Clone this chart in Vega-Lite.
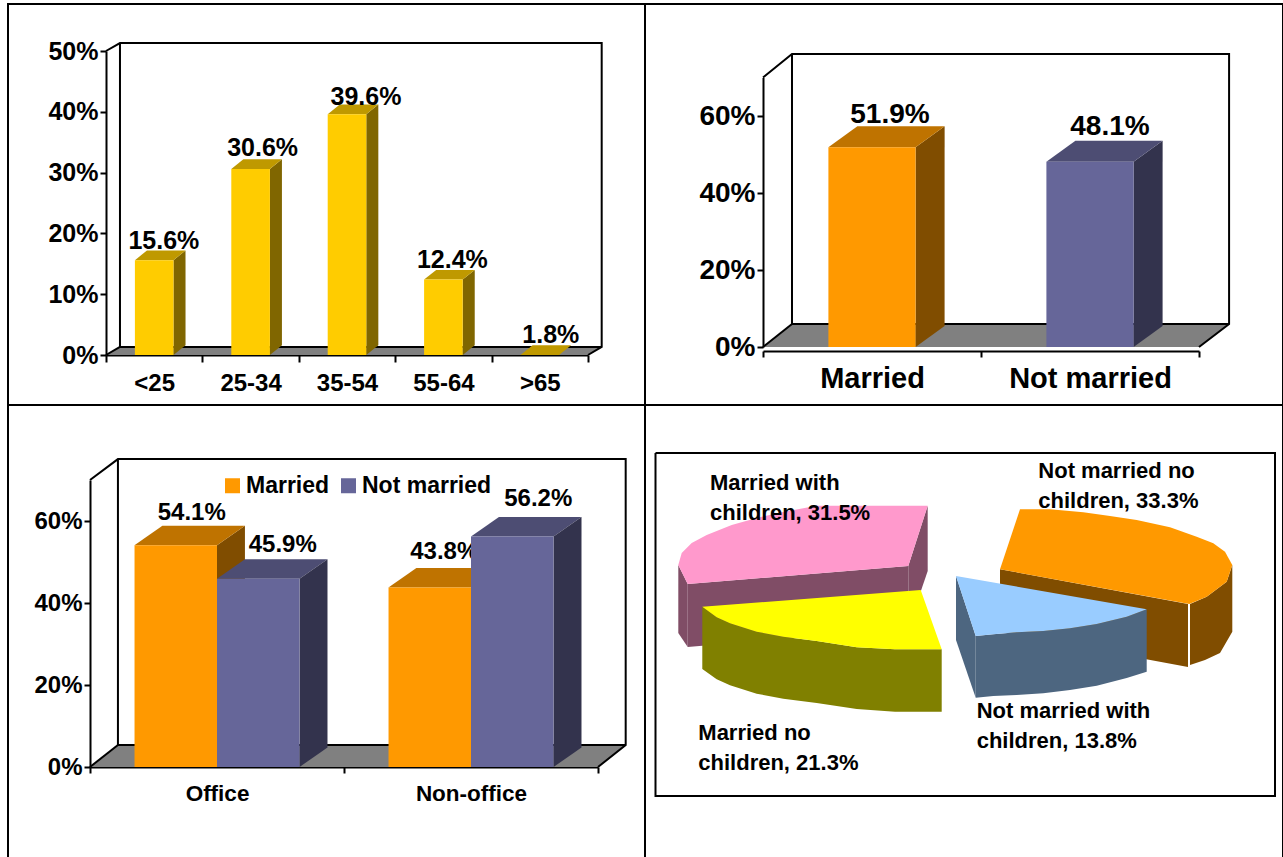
{
"$schema":"https://vega.github.io/schema/vega-lite/v6.json",
"padding":{"left":7,"top":3,"right":0,"bottom":0},
"background":"white",
"columns":2,"spacing":0,"bounds":"flush","align":"each",
"resolve":{"scale":{"color":"independent","fill":"independent"}},
"config":{
 "view":{"stroke":"black","strokeWidth":2,"fill":"white"},
 "axis":{"grid":false,"title":null,"labelFont":"Liberation Sans","labelFontWeight":"bold","labelColor":"black","domainColor":"black","tickColor":"black","domainWidth":2,"tickWidth":2,"tickSize":6,"labelPadding":2,"labelOverlap":false,"labelFlush":false,"labelAngle":0,"zindex":1},
 "text":{"font":"Liberation Sans","fontWeight":"bold","color":"black","baseline":"middle"},
 "legend":{"labelFont":"Liberation Sans","labelFontWeight":"bold","labelColor":"black"}
},
"datasets":{
 "age":[{"age":"<25","value":15.6,"label":"15.6%"},{"age":"25-34","value":30.6,"label":"30.6%"},{"age":"35-54","value":39.6,"label":"39.6%"},{"age":"55-64","value":12.4,"label":"12.4%"},{"age":">65","value":1.8,"label":"1.8%"}],
 "marital":[{"status":"Married","value":51.9,"label":"51.9%"},{"status":"Not married","value":48.1,"label":"48.1%"}],
 "work":[{"job":"Office","status":"Married","value":54.1,"label":"54.1%"},{"job":"Office","status":"Not married","value":45.9,"label":"45.9%"},{"job":"Non-office","status":"Married","value":43.8,"label":"43.8%"},{"job":"Non-office","status":"Not married","value":56.2,"label":"56.2%"}],
 "family":[{"segment":"Married with children","value":31.5,"label":"Married with\nchildren, 31.5%","x":710,"y":482.7},{"segment":"Not married no children","value":33.3,"label":"Not married no\nchildren, 33.3%","x":1038.3,"y":470.7},{"segment":"Not married with children","value":13.8,"label":"Not married with\nchildren, 13.8%","x":976.7,"y":710.7},{"segment":"Married no children","value":21.3,"label":"Married no\nchildren, 21.3%","x":698.3,"y":732.7}],
 "p1faces":[
 {"p":"floor","s":"floor","k":0,"x":0,"y":0},{"p":"floor","s":"floor","k":1,"x":0.145,"y":1.32},{"p":"floor","s":"floor","k":2,"x":5.142,"y":1.32},{"p":"floor","s":"floor","k":3,"x":5,"y":0},
 {"p":"a1","s":"side","k":0,"x":0.7,"y":15.6},{"p":"a1","s":"side","k":1,"x":0.825,"y":17.2},{"p":"a1","s":"side","k":2,"x":0.825,"y":1.6},{"p":"a1","s":"side","k":3,"x":0.7,"y":0},
 {"p":"a2","s":"top","k":0,"x":0.3,"y":15.6},{"p":"a2","s":"top","k":1,"x":0.7,"y":15.6},{"p":"a2","s":"top","k":2,"x":0.825,"y":17.2},{"p":"a2","s":"top","k":3,"x":0.425,"y":17.2},
 {"p":"b1","s":"side","k":0,"x":1.7,"y":30.6},{"p":"b1","s":"side","k":1,"x":1.825,"y":32.2},{"p":"b1","s":"side","k":2,"x":1.825,"y":1.6},{"p":"b1","s":"side","k":3,"x":1.7,"y":0},
 {"p":"b2","s":"top","k":0,"x":1.3,"y":30.6},{"p":"b2","s":"top","k":1,"x":1.7,"y":30.6},{"p":"b2","s":"top","k":2,"x":1.825,"y":32.2},{"p":"b2","s":"top","k":3,"x":1.425,"y":32.2},
 {"p":"c1","s":"side","k":0,"x":2.7,"y":39.6},{"p":"c1","s":"side","k":1,"x":2.825,"y":41.2},{"p":"c1","s":"side","k":2,"x":2.825,"y":1.6},{"p":"c1","s":"side","k":3,"x":2.7,"y":0},
 {"p":"c2","s":"top","k":0,"x":2.3,"y":39.6},{"p":"c2","s":"top","k":1,"x":2.7,"y":39.6},{"p":"c2","s":"top","k":2,"x":2.825,"y":41.2},{"p":"c2","s":"top","k":3,"x":2.425,"y":41.2},
 {"p":"d1","s":"side","k":0,"x":3.7,"y":12.4},{"p":"d1","s":"side","k":1,"x":3.825,"y":14},{"p":"d1","s":"side","k":2,"x":3.825,"y":1.6},{"p":"d1","s":"side","k":3,"x":3.7,"y":0},
 {"p":"d2","s":"top","k":0,"x":3.3,"y":12.4},{"p":"d2","s":"top","k":1,"x":3.7,"y":12.4},{"p":"d2","s":"top","k":2,"x":3.825,"y":14},{"p":"d2","s":"top","k":3,"x":3.425,"y":14},
 {"p":"e2","s":"top","k":0,"x":4.3,"y":0},{"p":"e2","s":"top","k":1,"x":4.7,"y":0},{"p":"e2","s":"top","k":2,"x":4.825,"y":1.6},{"p":"e2","s":"top","k":3,"x":4.425,"y":1.6}
 ],
 "p1edges":[
 {"p":"w1","k":0,"x":0,"y":50},{"p":"w1","k":1,"x":0.145,"y":51.3},{"p":"w1","k":2,"x":5.142,"y":51.3},{"p":"w1","k":3,"x":5.142,"y":1.32},{"p":"w1","k":4,"x":5,"y":0},
 {"p":"w2","k":0,"x":0.145,"y":51.3},{"p":"w2","k":1,"x":0.145,"y":1.32},{"p":"w2","k":2,"x":5.142,"y":1.32},
 {"p":"w3","k":0,"x":0,"y":0},{"p":"w3","k":1,"x":0.145,"y":1.32}
 ],
 "p2faces":[
 {"p":"floor","s":"floor","k":0,"x":0,"y":0},{"p":"floor","s":"floor","k":1,"x":0.133,"y":5.97},{"p":"floor","s":"floor","k":2,"x":2.138,"y":5.97},{"p":"floor","s":"floor","k":3,"x":2,"y":0},
 {"p":"a1","s":"oside","k":0,"x":0.7,"y":51.9},{"p":"a1","s":"oside","k":1,"x":0.833,"y":57.35},{"p":"a1","s":"oside","k":2,"x":0.833,"y":5.45},{"p":"a1","s":"oside","k":3,"x":0.7,"y":0},
 {"p":"a2","s":"otop","k":0,"x":0.3,"y":51.9},{"p":"a2","s":"otop","k":1,"x":0.7,"y":51.9},{"p":"a2","s":"otop","k":2,"x":0.833,"y":57.35},{"p":"a2","s":"otop","k":3,"x":0.433,"y":57.35},
 {"p":"b1","s":"pside","k":0,"x":1.7,"y":48.1},{"p":"b1","s":"pside","k":1,"x":1.833,"y":53.55},{"p":"b1","s":"pside","k":2,"x":1.833,"y":5.45},{"p":"b1","s":"pside","k":3,"x":1.7,"y":0},
 {"p":"b2","s":"ptop","k":0,"x":1.3,"y":48.1},{"p":"b2","s":"ptop","k":1,"x":1.7,"y":48.1},{"p":"b2","s":"ptop","k":2,"x":1.833,"y":53.55},{"p":"b2","s":"ptop","k":3,"x":1.433,"y":53.55}
 ],
 "p2edges":[
 {"p":"w1","k":0,"x":0,"y":70},{"p":"w1","k":1,"x":0.133,"y":76.1},{"p":"w1","k":2,"x":2.138,"y":76.1},{"p":"w1","k":3,"x":2.138,"y":5.97},{"p":"w1","k":4,"x":2,"y":0},
 {"p":"w2","k":0,"x":0.133,"y":76.1},{"p":"w2","k":1,"x":0.133,"y":5.97},{"p":"w2","k":2,"x":2.138,"y":5.97},
 {"p":"w3","k":0,"x":0,"y":0},{"p":"w3","k":1,"x":0.133,"y":5.97}
 ],
 "p3faces":[
 {"p":"floor","s":"floor","k":0,"x":0,"y":0},{"p":"floor","s":"floor","k":1,"x":0.11,"y":5.37},{"p":"floor","s":"floor","k":2,"x":2.109,"y":5.37},{"p":"floor","s":"floor","k":3,"x":2,"y":0},
 {"p":"a1","s":"oside","k":0,"x":0.5,"y":54.1},{"p":"a1","s":"oside","k":1,"x":0.61,"y":58.86},{"p":"a1","s":"oside","k":2,"x":0.61,"y":4.76},{"p":"a1","s":"oside","k":3,"x":0.5,"y":0},
 {"p":"a2","s":"otop","k":0,"x":0.175,"y":54.1},{"p":"a2","s":"otop","k":1,"x":0.5,"y":54.1},{"p":"a2","s":"otop","k":2,"x":0.61,"y":58.86},{"p":"a2","s":"otop","k":3,"x":0.285,"y":58.86},
 {"p":"b2","s":"ptop","k":0,"x":0.5,"y":45.9},{"p":"b2","s":"ptop","k":1,"x":0.825,"y":45.9},{"p":"b2","s":"ptop","k":2,"x":0.935,"y":50.66},{"p":"b2","s":"ptop","k":3,"x":0.61,"y":50.66},
 {"p":"b1","s":"pside","k":0,"x":0.825,"y":45.9},{"p":"b1","s":"pside","k":1,"x":0.935,"y":50.66},{"p":"b1","s":"pside","k":2,"x":0.935,"y":4.76},{"p":"b1","s":"pside","k":3,"x":0.825,"y":0},
 {"p":"c2","s":"otop","k":0,"x":1.175,"y":43.8},{"p":"c2","s":"otop","k":1,"x":1.5,"y":43.8},{"p":"c2","s":"otop","k":2,"x":1.61,"y":48.56},{"p":"c2","s":"otop","k":3,"x":1.285,"y":48.56},
 {"p":"d2","s":"ptop","k":0,"x":1.5,"y":56.2},{"p":"d2","s":"ptop","k":1,"x":1.825,"y":56.2},{"p":"d2","s":"ptop","k":2,"x":1.935,"y":60.96},{"p":"d2","s":"ptop","k":3,"x":1.61,"y":60.96},
 {"p":"d1","s":"pside","k":0,"x":1.825,"y":56.2},{"p":"d1","s":"pside","k":1,"x":1.935,"y":60.96},{"p":"d1","s":"pside","k":2,"x":1.935,"y":4.76},{"p":"d1","s":"pside","k":3,"x":1.825,"y":0}
 ],
 "p3edges":[
 {"p":"w1","k":0,"x":0,"y":70},{"p":"w1","k":1,"x":0.11,"y":75.1},{"p":"w1","k":2,"x":2.109,"y":75.1},{"p":"w1","k":3,"x":2.109,"y":5.37},{"p":"w1","k":4,"x":2,"y":0},
 {"p":"w2","k":0,"x":0.11,"y":75.1},{"p":"w2","k":1,"x":0.11,"y":5.37},{"p":"w2","k":2,"x":2.109,"y":5.37},
 {"p":"w3","k":0,"x":0,"y":0},{"p":"w3","k":1,"x":0.11,"y":5.37}
 ],
 "pieOutlines":[
 {"p":"box","s":"box","k":0,"x":655.5,"y":453},{"p":"box","s":"box","k":1,"x":1275,"y":453},{"p":"box","s":"box","k":2,"x":1275,"y":796},{"p":"box","s":"box","k":3,"x":655.5,"y":796},{"p":"box","s":"box","k":4,"x":655.5,"y":453},
 {"p":"pk1","s":"pinkside","k":0,"x":678.3,"y":565},{"p":"pk1","s":"pinkside","k":1,"x":687.7,"y":584},{"p":"pk1","s":"pinkside","k":2,"x":687.7,"y":647},{"p":"pk1","s":"pinkside","k":3,"x":678.3,"y":633},
 {"p":"pk2","s":"pinkside","k":0,"x":687.7,"y":584},{"p":"pk2","s":"pinkside","k":1,"x":908.3,"y":566},{"p":"pk2","s":"pinkside","k":2,"x":908.3,"y":628},{"p":"pk2","s":"pinkside","k":3,"x":687.7,"y":647},
 {"p":"pk3","s":"pinkside","k":0,"x":927.7,"y":505.7},{"p":"pk3","s":"pinkside","k":1,"x":908.3,"y":566},{"p":"pk3","s":"pinkside","k":2,"x":908.3,"y":628},{"p":"pk3","s":"pinkside","k":3,"x":927.7,"y":571},
 {"p":"pk4","s":"pink","k":0,"x":927.7,"y":505.7},{"p":"pk4","s":"pink","k":1,"x":908.3,"y":566},{"p":"pk4","s":"pink","k":2,"x":687.7,"y":584},{"p":"pk4","s":"pink","k":3,"x":678.3,"y":565},{"p":"pk4","s":"pink","k":4,"x":681.7,"y":553},{"p":"pk4","s":"pink","k":5,"x":691.7,"y":543},{"p":"pk4","s":"pink","k":6,"x":706.7,"y":535},{"p":"pk4","s":"pink","k":7,"x":731.7,"y":525},{"p":"pk4","s":"pink","k":8,"x":756.7,"y":518},{"p":"pk4","s":"pink","k":9,"x":783,"y":512},{"p":"pk4","s":"pink","k":10,"x":810,"y":507},{"p":"pk4","s":"pink","k":11,"x":816.7,"y":505.7},
 {"p":"yl1","s":"yellowside","k":0,"x":702.3,"y":606.7},{"p":"yl1","s":"yellowside","k":1,"x":716.7,"y":617.3},{"p":"yl1","s":"yellowside","k":2,"x":730,"y":623.3},{"p":"yl1","s":"yellowside","k":3,"x":756.7,"y":631.7},{"p":"yl1","s":"yellowside","k":4,"x":783.3,"y":636.7},{"p":"yl1","s":"yellowside","k":5,"x":816.7,"y":641},{"p":"yl1","s":"yellowside","k":6,"x":856.7,"y":647.3},{"p":"yl1","s":"yellowside","k":7,"x":895,"y":649.3},{"p":"yl1","s":"yellowside","k":8,"x":941.7,"y":649.3},{"p":"yl1","s":"yellowside","k":9,"x":941.7,"y":711.7},{"p":"yl1","s":"yellowside","k":10,"x":895,"y":711.7},{"p":"yl1","s":"yellowside","k":11,"x":856.7,"y":709},{"p":"yl1","s":"yellowside","k":12,"x":816.7,"y":703},{"p":"yl1","s":"yellowside","k":13,"x":783.3,"y":698.7},{"p":"yl1","s":"yellowside","k":14,"x":756.7,"y":693.7},{"p":"yl1","s":"yellowside","k":15,"x":730,"y":685.3},{"p":"yl1","s":"yellowside","k":16,"x":716.7,"y":679.3},{"p":"yl1","s":"yellowside","k":17,"x":702.3,"y":669},
 {"p":"yl2","s":"yellow","k":0,"x":702.3,"y":606.7},{"p":"yl2","s":"yellow","k":1,"x":920.7,"y":590},{"p":"yl2","s":"yellow","k":2,"x":941.7,"y":649.3},{"p":"yl2","s":"yellow","k":3,"x":895,"y":649.3},{"p":"yl2","s":"yellow","k":4,"x":856.7,"y":647.3},{"p":"yl2","s":"yellow","k":5,"x":816.7,"y":641},{"p":"yl2","s":"yellow","k":6,"x":783.3,"y":636.7},{"p":"yl2","s":"yellow","k":7,"x":756.7,"y":631.7},{"p":"yl2","s":"yellow","k":8,"x":730,"y":623.3},{"p":"yl2","s":"yellow","k":9,"x":716.7,"y":617.3},
 {"p":"or1","s":"orangeside","k":0,"x":1000,"y":569.3},{"p":"or1","s":"orangeside","k":1,"x":1188,"y":604},{"p":"or1","s":"orangeside","k":2,"x":1188,"y":667},{"p":"or1","s":"orangeside","k":3,"x":1000,"y":632},
 {"p":"or2","s":"orangeside","k":0,"x":1190,"y":604},{"p":"or2","s":"orangeside","k":1,"x":1206.7,"y":596.7},{"p":"or2","s":"orangeside","k":2,"x":1226.7,"y":581.7},{"p":"or2","s":"orangeside","k":3,"x":1232.3,"y":565},{"p":"or2","s":"orangeside","k":4,"x":1232.3,"y":631.7},{"p":"or2","s":"orangeside","k":5,"x":1220,"y":653},{"p":"or2","s":"orangeside","k":6,"x":1205,"y":660},{"p":"or2","s":"orangeside","k":7,"x":1190,"y":665},
 {"p":"or3","s":"orange","k":0,"x":1020,"y":509.3},{"p":"or3","s":"orange","k":1,"x":1000,"y":569.3},{"p":"or3","s":"orange","k":2,"x":1189.3,"y":604},{"p":"or3","s":"orange","k":3,"x":1206.7,"y":596.7},{"p":"or3","s":"orange","k":4,"x":1226.7,"y":581.7},{"p":"or3","s":"orange","k":5,"x":1232.3,"y":565},{"p":"or3","s":"orange","k":6,"x":1225,"y":551.7},{"p":"or3","s":"orange","k":7,"x":1213.3,"y":543.3},{"p":"or3","s":"orange","k":8,"x":1196.7,"y":536.7},{"p":"or3","s":"orange","k":9,"x":1170,"y":527.3},{"p":"or3","s":"orange","k":10,"x":1136.7,"y":520},{"p":"or3","s":"orange","k":11,"x":1110,"y":516},{"p":"or3","s":"orange","k":12,"x":1083.3,"y":512.3},{"p":"or3","s":"orange","k":13,"x":1050,"y":509.3},
 {"p":"bl1","s":"blueside","k":0,"x":956,"y":576},{"p":"bl1","s":"blueside","k":1,"x":975.7,"y":636},{"p":"bl1","s":"blueside","k":2,"x":975.7,"y":697.7},{"p":"bl1","s":"blueside","k":3,"x":956,"y":640},
 {"p":"bl2","s":"blueside","k":0,"x":975.7,"y":636},{"p":"bl2","s":"blueside","k":1,"x":993.3,"y":634.3},{"p":"bl2","s":"blueside","k":2,"x":1016.7,"y":632.3},{"p":"bl2","s":"blueside","k":3,"x":1043.3,"y":631},{"p":"bl2","s":"blueside","k":4,"x":1070,"y":628.3},{"p":"bl2","s":"blueside","k":5,"x":1096.7,"y":624},{"p":"bl2","s":"blueside","k":6,"x":1126.7,"y":616.7},{"p":"bl2","s":"blueside","k":7,"x":1146.7,"y":609.3},{"p":"bl2","s":"blueside","k":8,"x":1146.7,"y":671.7},{"p":"bl2","s":"blueside","k":9,"x":1126.7,"y":678},{"p":"bl2","s":"blueside","k":10,"x":1096.7,"y":685.7},{"p":"bl2","s":"blueside","k":11,"x":1070,"y":690},{"p":"bl2","s":"blueside","k":12,"x":1043.3,"y":693.3},{"p":"bl2","s":"blueside","k":13,"x":1016.7,"y":695},{"p":"bl2","s":"blueside","k":14,"x":993.3,"y":696},{"p":"bl2","s":"blueside","k":15,"x":975.7,"y":697.7},
 {"p":"bl3","s":"blue","k":0,"x":956,"y":576},{"p":"bl3","s":"blue","k":1,"x":1146.7,"y":609.3},{"p":"bl3","s":"blue","k":2,"x":1126.7,"y":616.7},{"p":"bl3","s":"blue","k":3,"x":1096.7,"y":624},{"p":"bl3","s":"blue","k":4,"x":1070,"y":628.3},{"p":"bl3","s":"blue","k":5,"x":1043.3,"y":631},{"p":"bl3","s":"blue","k":6,"x":1016.7,"y":632.3},{"p":"bl3","s":"blue","k":7,"x":993.3,"y":634.3},{"p":"bl3","s":"blue","k":8,"x":975.7,"y":636}
 ]
},
"concat":[
 {"width":637,"height":401,
  "resolve":{"scale":{"x":"independent"},"axis":{"y":"independent"}},
  "layer":[
  {"data":{"name":"p1faces"},"transform":[{"filter":"datum.p==='floor'"}],"mark":{"type":"line","fill":"#808080","strokeWidth":0},"encoding":{"x":{"field":"x","type":"quantitative","axis":null,"scale":{"domain":[0,5],"range":[98,580]}},"y":{"field":"y","type":"quantitative","axis":null,"scale":{"domain":[0,50],"range":[351,47]}},"detail":{"field":"p"},"order":{"field":"k"}}},
  {"data":{"name":"p1edges"},"mark":{"type":"line","color":"black","strokeWidth":2},"encoding":{"x":{"field":"x","type":"quantitative","axis":null,"scale":{"domain":[0,5],"range":[98,580]}},"y":{"field":"y","type":"quantitative","axis":null,"scale":{"domain":[0,50],"range":[351,47]}},"detail":{"field":"p"},"order":{"field":"k"}}},
  {"data":{"name":"p1faces"},"transform":[{"filter":"datum.p!=='floor'"}],"mark":{"type":"line","strokeWidth":0},"encoding":{"x":{"field":"x","type":"quantitative","axis":null,"scale":{"domain":[0,5],"range":[98,580]}},"y":{"field":"y","type":"quantitative","axis":null,"scale":{"domain":[0,50],"range":[351,47]}},"fill":{"field":"s","type":"nominal","legend":null,"scale":{"domain":["top","side"],"range":["#BF9900","#806600"]}},"detail":{"field":"p"},"order":{"field":"k"}}},
  {"data":{"name":"age"},"transform":[{"filter":"datum.value>2"}],"mark":{"type":"bar","color":"#FFCC00","width":38.6},"encoding":{"x":{"field":"age","type":"nominal","sort":null,"title":null,"axis":{"orient":"bottom","offset":-50,"tickBand":"extent","labelFontSize":24,"labelPadding":9,"tickSize":7},"scale":{"type":"band","domain":["<25","25-34","35-54","55-64",">65"],"range":[98,580],"padding":0}},"y":{"field":"value","type":"quantitative","title":null,"axis":{"orient":"left","offset":-98,"values":[0,10,20,30,40,50],"labelExpr":"datum.value+'%'","labelFontSize":25},"scale":{"domain":[0,50],"range":[351,47]}}}},
  {"data":{"name":"age"},"transform":[{"filter":"datum.age==='<25'"}],"mark":{"type":"text","fontSize":25,"dx":9.7,"dy":-19},"encoding":{"x":{"field":"age","type":"nominal","axis":null,"scale":{"type":"band","domain":["<25","25-34","35-54","55-64",">65"],"range":[98,580],"padding":0}},"y":{"field":"value","type":"quantitative","axis":null,"scale":{"domain":[0,50],"range":[351,47]}},"text":{"field":"label"}}},
  {"data":{"name":"age"},"transform":[{"filter":"datum.age==='25-34'"}],"mark":{"type":"text","fontSize":25,"dx":12,"dy":-21},"encoding":{"x":{"field":"age","type":"nominal","axis":null,"scale":{"type":"band","domain":["<25","25-34","35-54","55-64",">65"],"range":[98,580],"padding":0}},"y":{"field":"value","type":"quantitative","axis":null,"scale":{"domain":[0,50],"range":[351,47]}},"text":{"field":"label"}}},
  {"data":{"name":"age"},"transform":[{"filter":"datum.age==='35-54'"}],"mark":{"type":"text","fontSize":25,"dx":19,"dy":-17.5},"encoding":{"x":{"field":"age","type":"nominal","axis":null,"scale":{"type":"band","domain":["<25","25-34","35-54","55-64",">65"],"range":[98,580],"padding":0}},"y":{"field":"value","type":"quantitative","axis":null,"scale":{"domain":[0,50],"range":[351,47]}},"text":{"field":"label"}}},
  {"data":{"name":"age"},"transform":[{"filter":"datum.age==='55-64'"}],"mark":{"type":"text","fontSize":25,"dx":9,"dy":-19.6},"encoding":{"x":{"field":"age","type":"nominal","axis":null,"scale":{"type":"band","domain":["<25","25-34","35-54","55-64",">65"],"range":[98,580],"padding":0}},"y":{"field":"value","type":"quantitative","axis":null,"scale":{"domain":[0,50],"range":[351,47]}},"text":{"field":"label"}}},
  {"data":{"name":"age"},"transform":[{"filter":"datum.age==='>65'"}],"mark":{"type":"text","fontSize":25,"dx":11,"dy":-9},"encoding":{"x":{"field":"age","type":"nominal","axis":null,"scale":{"type":"band","domain":["<25","25-34","35-54","55-64",">65"],"range":[98,580],"padding":0}},"y":{"field":"value","type":"quantitative","axis":null,"scale":{"domain":[0,50],"range":[351,47]}},"text":{"field":"label"}}}
  ]},
 {"width":638,"height":401,
  "resolve":{"scale":{"x":"independent"},"axis":{"y":"independent"}},
  "layer":[
  {"data":{"name":"p2faces"},"transform":[{"filter":"datum.p==='floor'"}],"mark":{"type":"line","fill":"#808080","strokeWidth":0},"encoding":{"x":{"field":"x","type":"quantitative","axis":null,"scale":{"domain":[0,2],"range":[118,554]}},"y":{"field":"y","type":"quantitative","axis":null,"scale":{"domain":[0,70],"range":[343,73.5]}},"detail":{"field":"p"},"order":{"field":"k"}}},
  {"data":{"name":"p2edges"},"mark":{"type":"line","color":"black","strokeWidth":2},"encoding":{"x":{"field":"x","type":"quantitative","axis":null,"scale":{"domain":[0,2],"range":[118,554]}},"y":{"field":"y","type":"quantitative","axis":null,"scale":{"domain":[0,70],"range":[343,73.5]}},"detail":{"field":"p"},"order":{"field":"k"}}},
  {"data":{"name":"marital"},"transform":[{"filter":"datum.status==='Married'"}],"mark":{"type":"text","fontSize":28,"dx":18,"dy":-32},"encoding":{"x":{"field":"status","type":"nominal","axis":null,"scale":{"type":"band","domain":["Married","Not married"],"range":[118,554],"padding":0}},"y":{"field":"value","type":"quantitative","axis":null,"scale":{"domain":[0,70],"range":[343,73.5]}},"text":{"field":"label"}}},
  {"data":{"name":"marital"},"transform":[{"filter":"datum.status==='Not married'"}],"mark":{"type":"text","fontSize":28,"dx":20,"dy":-35},"encoding":{"x":{"field":"status","type":"nominal","axis":null,"scale":{"type":"band","domain":["Married","Not married"],"range":[118,554],"padding":0}},"y":{"field":"value","type":"quantitative","axis":null,"scale":{"domain":[0,70],"range":[343,73.5]}},"text":{"field":"label"}}},
  {"data":{"name":"p2faces"},"transform":[{"filter":"datum.p!=='floor'"}],"mark":{"type":"line","strokeWidth":0},"encoding":{"x":{"field":"x","type":"quantitative","axis":null,"scale":{"domain":[0,2],"range":[118,554]}},"y":{"field":"y","type":"quantitative","axis":null,"scale":{"domain":[0,70],"range":[343,73.5]}},"fill":{"field":"s","type":"nominal","legend":null,"scale":{"domain":["otop","oside","ptop","pside"],"range":["#BF7300","#804D00","#4D4D73","#33334D"]}},"detail":{"field":"p"},"order":{"field":"k"}}},
  {"data":{"name":"marital"},"mark":{"type":"bar","width":87.2},"encoding":{"x":{"field":"status","type":"nominal","sort":null,"title":null,"axis":{"orient":"bottom","offset":-54,"tickBand":"extent","labelFontSize":29,"labelPadding":7,"tickSize":6},"scale":{"type":"band","domain":["Married","Not married"],"range":[118,554],"padding":0}},"y":{"field":"value","type":"quantitative","title":null,"axis":{"orient":"left","offset":-118,"values":[0,20,40,60],"labelExpr":"datum.value+'%'","labelFontSize":28},"scale":{"domain":[0,70],"range":[343,73.5]}},"color":{"field":"status","type":"nominal","legend":null,"scale":{"domain":["Married","Not married"],"range":["#FF9900","#666699"]}}}}
  ]},
 {"width":637,"height":456,
  "resolve":{"scale":{"x":"independent"},"axis":{"y":"independent"}},
  "layer":[
  {"data":{"name":"p3faces"},"transform":[{"filter":"datum.p==='floor'"}],"mark":{"type":"line","fill":"#808080","strokeWidth":0},"encoding":{"x":{"field":"x","type":"quantitative","axis":null,"scale":{"domain":[0,2],"range":[82,590]}},"y":{"field":"y","type":"quantitative","axis":null,"scale":{"domain":[0,70],"range":[362,75]}},"detail":{"field":"p"},"order":{"field":"k"}}},
  {"data":{"name":"p3edges"},"mark":{"type":"line","color":"black","strokeWidth":2},"encoding":{"x":{"field":"x","type":"quantitative","axis":null,"scale":{"domain":[0,2],"range":[82,590]}},"y":{"field":"y","type":"quantitative","axis":null,"scale":{"domain":[0,70],"range":[362,75]}},"detail":{"field":"p"},"order":{"field":"k"}}},
  {"data":{"name":"work"},"transform":[{"filter":"datum.job==='Office'&&datum.status==='Married'"}],"mark":{"type":"text","fontSize":24,"dx":16,"dy":-32.5},"encoding":{"x":{"field":"job","type":"nominal","axis":null,"scale":{"type":"band","domain":["Office","Non-office"],"range":[82,590],"padding":0}},"xOffset":{"field":"status","type":"nominal","scale":{"domain":["Married","Not married"],"paddingInner":0,"paddingOuter":0.54}},"y":{"field":"value","type":"quantitative","axis":null,"scale":{"domain":[0,70],"range":[362,75]}},"text":{"field":"label"}}},
  {"data":{"name":"work"},"transform":[{"filter":"datum.job==='Office'&&datum.status==='Not married'"}],"mark":{"type":"text","fontSize":24,"dx":24.5,"dy":-34},"encoding":{"x":{"field":"job","type":"nominal","axis":null,"scale":{"type":"band","domain":["Office","Non-office"],"range":[82,590],"padding":0}},"xOffset":{"field":"status","type":"nominal","scale":{"domain":["Married","Not married"],"paddingInner":0,"paddingOuter":0.54}},"y":{"field":"value","type":"quantitative","axis":null,"scale":{"domain":[0,70],"range":[362,75]}},"text":{"field":"label"}}},
  {"data":{"name":"work"},"transform":[{"filter":"datum.job==='Non-office'&&datum.status==='Married'"}],"mark":{"type":"text","fontSize":24,"dx":14.5,"dy":-35},"encoding":{"x":{"field":"job","type":"nominal","axis":null,"scale":{"type":"band","domain":["Office","Non-office"],"range":[82,590],"padding":0}},"xOffset":{"field":"status","type":"nominal","scale":{"domain":["Married","Not married"],"paddingInner":0,"paddingOuter":0.54}},"y":{"field":"value","type":"quantitative","axis":null,"scale":{"domain":[0,70],"range":[362,75]}},"text":{"field":"label"}}},
  {"data":{"name":"work"},"transform":[{"filter":"datum.job==='Non-office'&&datum.status==='Not married'"}],"mark":{"type":"text","fontSize":24,"dx":26,"dy":-37.6},"encoding":{"x":{"field":"job","type":"nominal","axis":null,"scale":{"type":"band","domain":["Office","Non-office"],"range":[82,590],"padding":0}},"xOffset":{"field":"status","type":"nominal","scale":{"domain":["Married","Not married"],"paddingInner":0,"paddingOuter":0.54}},"y":{"field":"value","type":"quantitative","axis":null,"scale":{"domain":[0,70],"range":[362,75]}},"text":{"field":"label"}}},
  {"data":{"name":"p3faces"},"transform":[{"filter":"datum.p!=='floor'"}],"mark":{"type":"line","strokeWidth":0},"encoding":{"x":{"field":"x","type":"quantitative","axis":null,"scale":{"domain":[0,2],"range":[82,590]}},"y":{"field":"y","type":"quantitative","axis":null,"scale":{"domain":[0,70],"range":[362,75]}},"fill":{"field":"s","type":"nominal","legend":null,"scale":{"domain":["otop","oside","ptop","pside"],"range":["#BF7300","#804D00","#4D4D73","#33334D"]}},"detail":{"field":"p"},"order":{"field":"k"}}},
  {"data":{"name":"work"},"mark":{"type":"bar"},"encoding":{"x":{"field":"job","type":"nominal","sort":null,"title":null,"axis":{"orient":"bottom","offset":-94,"tickBand":"extent","labelFontSize":22.5,"labelPadding":9,"tickSize":6},"scale":{"type":"band","domain":["Office","Non-office"],"range":[82,590],"padding":0}},"xOffset":{"field":"status","type":"nominal","scale":{"domain":["Married","Not married"],"paddingInner":0,"paddingOuter":0.54}},"y":{"field":"value","type":"quantitative","title":null,"axis":{"orient":"left","offset":-82,"values":[0,20,40,60],"labelExpr":"datum.value+'%'","labelFontSize":24},"scale":{"domain":[0,70],"range":[362,75]}},"color":{"field":"status","type":"nominal","scale":{"domain":["Married","Not married"],"range":["#FF9900","#666699"]},"legend":{"orient":"none","legendX":213,"legendY":69,"direction":"horizontal","title":null,"symbolType":"square","symbolSize":225,"symbolStrokeWidth":0,"symbolOpacity":1,"labelFontSize":23,"columns":2,"columnPadding":7,"labelOffset":2}}}}
  ]},
 {"width":638,"height":456,
  "layer":[
  {"data":{"name":"pieOutlines"},"transform":[{"filter":"datum.p==='box'"}],"mark":{"type":"line","color":"black","strokeWidth":2},"encoding":{"x":{"field":"x","type":"quantitative","axis":null,"scale":{"domain":[645,1283],"range":[0,638]}},"y":{"field":"y","type":"quantitative","axis":null,"scale":{"domain":[857,405],"range":[452,0]}},"order":{"field":"k"}}},
  {"data":{"name":"pieOutlines"},"transform":[{"filter":"datum.p!=='box'"}],"mark":{"type":"line","strokeWidth":0},"encoding":{"x":{"field":"x","type":"quantitative","axis":null,"scale":{"domain":[645,1283],"range":[0,638]}},"y":{"field":"y","type":"quantitative","axis":null,"scale":{"domain":[857,405],"range":[452,0]}},"fill":{"field":"s","type":"nominal","legend":null,"scale":{"domain":["pink","pinkside","yellow","yellowside","orange","orangeside","blue","blueside"],"range":["#FF99CC","#804D66","#FFFF00","#808000","#FF9900","#804D00","#99CCFF","#4D6680"]}},"detail":{"field":"p"},"order":{"field":"k"}}},
  {"data":{"name":"family"},"mark":{"type":"text","align":"left","lineBreak":"\n","lineHeight":30,"fontSize":22},"encoding":{"x":{"field":"x","type":"quantitative","axis":null,"scale":{"domain":[645,1283],"range":[0,638]}},"y":{"field":"y","type":"quantitative","axis":null,"scale":{"domain":[857,405],"range":[452,0]}},"text":{"field":"label"}}}
  ]}
]
}
